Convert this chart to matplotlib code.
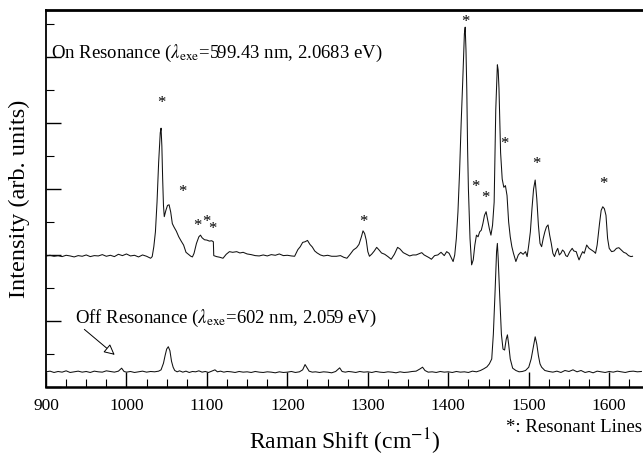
import matplotlib
matplotlib.use("Agg")
import matplotlib.pyplot as plt
from matplotlib.ticker import MultipleLocator, NullFormatter

plt.rcParams['font.family'] = ['Liberation Serif', 'DejaVu Serif']
plt.rcParams['mathtext.fontset'] = 'stix'

# On-resonance spectrum (Raman shift, intensity)
on_x = [900, 905, 910, 915, 920, 925, 930, 935, 940, 945, 950, 955, 960, 965, 970, 975, 980, 985, 990, 995,
        1000, 1005, 1010, 1015, 1020, 1025, 1030, 1032, 1034, 1036, 1038, 1040, 1042, 1043, 1044, 1045, 1046,
        1047, 1049, 1051, 1053, 1055, 1057, 1059, 1062, 1065, 1068, 1071, 1074, 1077, 1080, 1082, 1084, 1087,
        1090, 1092, 1094, 1097, 1100, 1103, 1106, 1108, 1108.5, 1112, 1116, 1120, 1124, 1128, 1132, 1137, 1141,
        1145, 1150, 1155, 1160, 1165, 1170, 1175, 1180, 1185, 1190, 1195, 1200, 1205, 1209, 1213, 1216, 1219,
        1222, 1225, 1228, 1231, 1234, 1237, 1241, 1245, 1250, 1255, 1261, 1266, 1270, 1274, 1278, 1282, 1286,
        1289, 1292, 1294, 1296, 1298, 1300, 1302, 1305, 1308, 1311, 1314, 1317, 1321, 1325, 1329, 1333, 1337,
        1340, 1344, 1348, 1352, 1356, 1360, 1364, 1367, 1370, 1373, 1376, 1379, 1383, 1387, 1391, 1395, 1398,
        1401, 1404, 1406, 1408, 1410, 1412, 1414, 1416, 1418, 1420, 1421, 1422, 1423, 1424, 1425, 1427, 1429,
        1431, 1433, 1435, 1437, 1439, 1441, 1443, 1445, 1447, 1449, 1451, 1453, 1455, 1457, 1459, 1461, 1462,
        1463, 1465, 1467, 1469, 1471, 1473, 1475, 1477, 1479, 1481, 1484, 1487, 1490, 1493, 1496, 1498, 1500,
        1502, 1504, 1506, 1508, 1510, 1512, 1514, 1516, 1518, 1520, 1522, 1524, 1526, 1528, 1530, 1532, 1534,
        1536, 1538, 1540, 1542, 1544, 1546, 1548, 1551, 1554, 1556, 1559, 1561, 1562.5, 1565, 1567, 1569, 1572,
        1575, 1578, 1581, 1583, 1585, 1588, 1590, 1592, 1594, 1596, 1598, 1600, 1603, 1606, 1609, 1612, 1615,
        1618, 1621, 1624, 1627, 1629]
on_y = [3.97, 3.99, 3.96, 3.98, 3.95, 3.99, 3.97, 3.94, 3.98, 3.96, 4.00, 3.95, 3.98, 3.97, 4.01, 3.96, 3.99,
        3.95, 4.02, 3.98, 4.03, 3.97, 3.99, 3.94, 4.00, 3.96, 3.90, 3.95, 4.25, 4.70, 5.60, 6.80, 7.70, 7.84,
        7.30, 6.30, 5.50, 5.16, 5.35, 5.50, 5.52, 5.30, 4.95, 4.85, 4.72, 4.55, 4.42, 4.30, 4.08, 4.02, 3.96,
        3.94, 4.05, 4.35, 4.55, 4.60, 4.52, 4.46, 4.45, 4.42, 4.43, 4.40, 3.98, 3.95, 3.93, 3.90, 4.02, 4.10,
        4.08, 4.10, 4.06, 4.08, 4.03, 4.01, 3.98, 3.97, 4.00, 3.97, 4.01, 3.99, 4.03, 3.98, 3.99, 3.97, 3.96,
        4.16, 4.25, 4.38, 4.40, 4.44, 4.32, 4.24, 4.12, 4.06, 4.00, 3.97, 3.99, 3.96, 3.96, 3.98, 3.93, 3.90,
        4.02, 4.15, 4.22, 4.32, 4.55, 4.73, 4.65, 4.45, 4.10, 3.96, 4.03, 4.12, 4.23, 4.15, 4.06, 4.02, 3.95,
        3.87, 4.02, 4.23, 4.18, 4.07, 4.02, 3.97, 4.00, 4.00, 4.04, 4.07, 4.00, 3.96, 3.92, 3.87, 3.98, 4.00,
        4.08, 3.98, 4.10, 4.05, 3.90, 3.80, 4.00, 4.50, 5.30, 6.50, 8.00, 9.30, 10.70, 10.90, 10.20, 9.00, 7.20,
        6.00, 4.50, 3.70, 3.85, 4.30, 4.60, 4.55, 4.70, 4.75, 4.95, 5.20, 5.31, 5.05, 4.80, 4.60, 4.90, 5.60,
        8.40, 9.76, 9.60, 9.05, 7.10, 6.30, 6.05, 6.10, 5.80, 5.00, 4.55, 4.25, 4.05, 3.80, 4.00, 4.08, 4.02,
        4.10, 3.95, 4.30, 4.70, 5.40, 6.00, 6.27, 5.70, 4.90, 4.35, 4.25, 4.50, 4.70, 4.85, 4.91, 4.60, 4.35,
        4.05, 3.95, 4.10, 4.20, 4.00, 4.05, 4.15, 4.10, 3.98, 3.95, 4.10, 4.20, 4.12, 4.10, 3.95, 3.85, 4.00,
        4.10, 4.05, 4.30, 4.20, 4.15, 4.10, 4.05, 4.30, 4.96, 5.35, 5.46, 5.40, 5.20, 4.50, 4.20, 4.10, 4.12,
        4.20, 4.22, 4.15, 4.08, 4.05, 3.98, 3.95, 3.96]

# Off-resonance spectrum
off_x = [900, 905, 910, 915, 920, 925, 930, 935, 940, 945, 950, 955, 960, 965, 970, 975, 980, 985, 990, 994,
         997, 1000, 1005, 1010, 1015, 1020, 1025, 1030, 1035, 1040, 1043, 1046, 1048, 1050, 1052, 1054, 1056,
         1058, 1060, 1063, 1066, 1070, 1074, 1078, 1082, 1086, 1090, 1094, 1098, 1102, 1106, 1110, 1113, 1117,
         1121, 1125, 1130, 1135, 1140, 1145, 1150, 1155, 1160, 1165, 1170, 1175, 1180, 1185, 1190, 1195, 1200,
         1205, 1210, 1215, 1219, 1222, 1224, 1227, 1231, 1235, 1240, 1245, 1250, 1255, 1260, 1265, 1268, 1272,
         1276, 1280, 1285, 1290, 1295, 1300, 1305, 1310, 1315, 1320, 1325, 1330, 1335, 1340, 1345, 1350, 1355,
         1360, 1365, 1368, 1371, 1375, 1380, 1385, 1390, 1395, 1400, 1405, 1410, 1415, 1420, 1425, 1430, 1435,
         1440, 1444, 1448, 1451, 1454, 1456, 1458, 1460, 1461, 1462, 1464, 1466, 1468, 1470, 1472, 1473.5, 1475,
         1477, 1480, 1484, 1488, 1492, 1496, 1500, 1503, 1505, 1508, 1510, 1512, 1514, 1516, 1520, 1525, 1530,
         1535, 1540, 1545, 1550, 1555, 1560, 1565, 1570, 1575, 1580, 1585, 1590, 1595, 1600, 1605, 1610, 1615,
         1620, 1625, 1630, 1635, 1640]
off_y = [0.46, 0.48, 0.44, 0.47, 0.45, 0.49, 0.44, 0.46, 0.48, 0.45, 0.47, 0.44, 0.48, 0.46, 0.45, 0.49, 0.47,
         0.45, 0.48, 0.57, 0.47, 0.45, 0.47, 0.44, 0.46, 0.48, 0.45, 0.47, 0.46, 0.48, 0.52, 0.72, 0.95, 1.15,
         1.22, 1.10, 0.78, 0.60, 0.50, 0.46, 0.49, 0.45, 0.48, 0.44, 0.47, 0.46, 0.49, 0.45, 0.47, 0.44, 0.48,
         0.52, 0.46, 0.48, 0.45, 0.47, 0.46, 0.44, 0.47, 0.45, 0.46, 0.44, 0.47, 0.45, 0.44, 0.46, 0.45, 0.43,
         0.46, 0.44, 0.45, 0.47, 0.44, 0.46, 0.52, 0.68, 0.60, 0.48, 0.45, 0.46, 0.44, 0.46, 0.45, 0.43, 0.47,
         0.58, 0.47, 0.45, 0.47, 0.46, 0.44, 0.47, 0.45, 0.46, 0.44, 0.47, 0.45, 0.44, 0.46, 0.45, 0.43, 0.46,
         0.44, 0.45, 0.47, 0.48, 0.55, 0.60, 0.50, 0.45, 0.46, 0.44, 0.47, 0.45, 0.46, 0.44, 0.47, 0.45, 0.46,
         0.44, 0.48, 0.46, 0.50, 0.55, 0.61, 0.70, 0.85, 1.60, 2.80, 4.10, 4.35, 3.90, 2.70, 1.60, 1.15, 1.12,
         1.45, 1.58, 1.30, 0.85, 0.57, 0.50, 0.46, 0.47, 0.50, 0.60, 0.85, 1.12, 1.52, 1.30, 0.95, 0.70, 0.60,
         0.50, 0.47, 0.45, 0.48, 0.44, 0.50, 0.47, 0.52, 0.46, 0.50, 0.44, 0.47, 0.43, 0.48, 0.46, 0.44, 0.47,
         0.45, 0.48, 0.46, 0.44, 0.47, 0.48, 0.46, 0.47]

# Resonant-line markers (asterisks)
star_x = [1043, 1070, 1088, 1099, 1107, 1294, 1421, 1434, 1446, 1470, 1509, 1593]
star_y = [8.72, 6.02, 5.00, 5.11, 4.91, 5.11, 11.17, 6.17, 5.84, 7.48, 6.88, 6.27]

x_ticks = [900, 1000, 1100, 1200, 1300, 1400, 1500, 1600]

fig = plt.figure(figsize=(6.43, 4.57), dpi=100)
ax = fig.add_axes([46/643, 70/457, 1 - 46/643, 377/457])

ax.plot(on_x, on_y, color='#111111', lw=0.75)
ax.plot(off_x, off_y, color='#111111', lw=0.75)

for sx, sy in zip(star_x, star_y):
    ax.text(sx, sy - 0.12, '*', ha='center', va='center', fontsize=12, color='black')

ax.set_xlim(900, 1642)
ax.set_ylim(0, 11.42)

ax.set_xticks(x_ticks)
ax.xaxis.set_minor_locator(MultipleLocator(25))
ax.yaxis.set_major_locator(MultipleLocator(2))
ax.yaxis.set_minor_locator(MultipleLocator(1))
ax.yaxis.set_major_formatter(NullFormatter())
ax.tick_params(axis='both', which='both', direction='in', top=False, right=False)
ax.tick_params(axis='x', which='major', length=11, width=1.0, labelsize=12.5, pad=8)
ax.tick_params(axis='x', which='minor', length=5.5, width=0.8)
ax.tick_params(axis='y', which='major', length=11, width=1.0)
ax.tick_params(axis='y', which='minor', length=5.5, width=0.8)

ax.spines['right'].set_visible(False)
ax.spines['top'].set_linewidth(2.0)
ax.spines['bottom'].set_linewidth(1.8)
ax.spines['left'].set_linewidth(1.3)

ax.set_xlabel(r'Raman Shift (cm$^{-1}$)', fontsize=17, labelpad=9)
ax.set_ylabel('Intensity (arb. units)', fontsize=17.5, labelpad=8)

ax.text(906, 10.1, r'On Resonance ($\lambda_{\rm exe}$=599.43 nm, 2.0683 eV)', fontsize=13.5,
        ha='left', va='center')
ax.text(936, 2.07, r'Off Resonance ($\lambda_{\rm exe}$=602 nm, 2.059 eV)', fontsize=13.5,
        ha='left', va='center')
ax.annotate('', xy=(988, 0.92), xytext=(945, 1.8),
            arrowprops=dict(arrowstyle='-|>', fc='white', ec='black', lw=0.7, mutation_scale=16))

fig.text(0.999, 1 - 428/457, '*: Resonant Lines', fontsize=13.5, ha='right', va='center')

fig.savefig('out.png', dpi=100)
